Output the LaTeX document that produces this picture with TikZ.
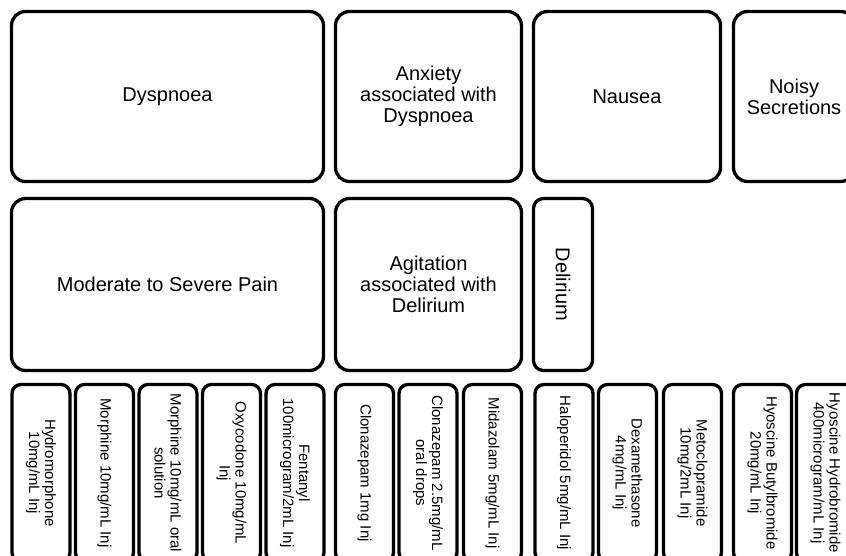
\documentclass[tikz,border=0pt]{standalone}
\usepackage{fontspec}
\setmainfont{Liberation Sans}

\begin{document}
\begin{tikzpicture}[
      x = 1pt, y = -1pt,
      box/.style  = {draw = black, fill = white, line width = 3.3pt, rounded corners = 14pt,
                     align = center, inner sep = 2pt, font = \fontsize{20}{21}\selectfont},
      top/.style  = {box, minimum height = 170pt},
      mid/.style  = {box, minimum height = 172pt},
      drug/.style = {draw = black, fill = white, line width = 3.3pt, rounded corners = 9pt,
                     align = center, inner sep = 2pt, rotate = -90,
                     minimum width = 177pt, minimum height = 58pt,
                     font = \fontsize{15}{16}\selectfont}
    ]

  \useasboundingbox (0,0) rectangle (846,556);
  \clip (0,0) rectangle (846,556);

  % symptoms, first row ---------------------------------------------------
  \node[top, minimum width = 312pt] (dysp)  at (167.5,96.5) {Dyspnoea};
  \node[top, minimum width = 186pt] (anx)   at (428.5,96.5) {Anxiety\\associated with\\Dyspnoea};
  \node[top, minimum width = 187pt] (naus)  at (627,96.5)   {Nausea};
  \node[top, minimum width = 121pt] (noisy) at (794,96.5)   {Noisy\\Secretions};

  % symptoms, second row --------------------------------------------------
  \node[mid, minimum width = 312pt] (pain)  at (167.5,284.5) {Moderate to Severe Pain};
  \node[mid, minimum width = 186pt] (agit)  at (428.5,284.5) {Agitation\\associated with\\Delirium};
  \node[box, rotate = -90, rounded corners = 10pt, minimum width = 172pt, minimum height = 59pt]
        (delir) at (563,284.5) {Delirium};

  % medicines ----------------------------------------------------------------
  \node[drug] (hydro)  at (41,473)    {Hydromorphone\\10mg/mL Inj};
  \node[drug] (morinj) at (104.5,473) {Morphine 10mg/mL Inj};
  \node[drug] (morsol) at (168,473)   {Morphine 10mg/mL oral\\solution};
  \node[drug] (oxy)    at (231.5,473) {Oxycodone 10mg/mL\\Inj};
  \node[drug] (fent)   at (295,473)   {Fentanyl\\100microgram/2mL Inj};

  \node[drug] (cloinj) at (364.5,473) {Clonazepam 1mg Inj};
  \node[drug] (clodrp) at (428,473)   {Clonazepam 2.5mg/mL\\oral drops};
  \node[drug] (mida)   at (492.5,473) {Midazolam 5mg/mL Inj};

  \node[drug] (halo)   at (564,473)   {Haloperidol 5mg/mL Inj};
  \node[drug] (dexa)   at (627.5,473) {Dexamethasone\\4mg/mL Inj};
  \node[drug] (meto)   at (692.5,473) {Metoclopramide\\10mg/2mL Inj};

  \node[drug] (hbutyl) at (762.5,473) {Hyoscine Butylbromide\\20mg/mL Inj};
  \node[drug] (hhydro) at (825.5,473) {Hyoscine Hydrobromide\\400microgram/mL Inj};

\end{tikzpicture}
\end{document}
